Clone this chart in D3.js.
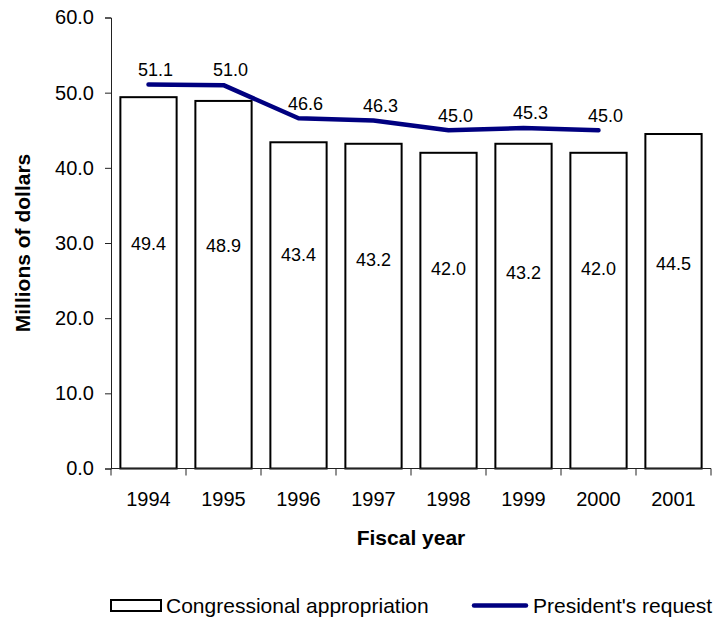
<!DOCTYPE html>
<html>
<head>
<meta charset="utf-8">
<script src="https://cdn.jsdelivr.net/npm/d3@7"></script>
<style>
  html, body { margin: 0; padding: 0; background: #fff; }
  svg text { font-family: "Liberation Sans", Arial, sans-serif; fill: #000; }
</style>
</head>
<body>
<svg id="chart" width="719" height="622"></svg>
<script>
// ---- data ----
const years = ["1994", "1995", "1996", "1997", "1998", "1999", "2000", "2001"];
const appropriation = [49.4, 48.9, 43.4, 43.2, 42.0, 43.2, 42.0, 44.5];
const request = [51.1, 51.0, 46.6, 46.3, 45.0, 45.3, 45.0];
// value (in axis units) at which each bar's label sits, as in the original
const barLabelAt = [29.9, 29.7, 28.5, 27.8, 26.6, 26.1, 26.6, 27.2];
const yTicks = [0, 10, 20, 30, 40, 50, 60];
const seriesNames = ["Congressional appropriation", "President's request"];
const xTitle = "Fiscal year";
const yTitle = "Millions of dollars";

// ---- layout ----
const svg = d3.select("#chart");
const m = { left: 111, top: 17.5, right: 8, bottom: 154 };
const W = 719, H = 622;
const x0 = m.left, x1 = 711, y0 = 468.5, y1 = m.top;

const x = d3.scaleBand().domain(years).range([x0, x1]).paddingInner(0.25).paddingOuter(0.125);
const y = d3.scaleLinear().domain([0, 60]).range([y0, y1]);

const g = svg.append("g");

// bars
g.selectAll("rect.bar").data(appropriation).enter().append("rect")
  .attr("class", "bar")
  .attr("x", (d, i) => x(years[i]))
  .attr("y", d => y(d))
  .attr("width", x.bandwidth())
  .attr("height", d => y(0) - y(d))
  .attr("fill", "#fff").attr("stroke", "#000").attr("stroke-width", 2);

// bar labels
g.selectAll("text.blab").data(appropriation).enter().append("text")
  .attr("x", (d, i) => x(years[i]) + x.bandwidth() / 2)
  .attr("y", (d, i) => y(barLabelAt[i]))
  .attr("dy", "0.35em")
  .attr("text-anchor", "middle")
  .attr("font-size", 18)
  .text(d => d.toFixed(1));

// y axis
const yAxis = d3.axisLeft(y).tickValues(yTicks).tickSize(6).tickPadding(11).tickFormat(d3.format(".1f"));
const ya = svg.append("g").attr("transform", `translate(${x0},0)`).call(yAxis);
ya.select(".domain").attr("stroke", "#222");
ya.selectAll(".tick line").attr("stroke", "#222");
ya.selectAll("text").attr("font-size", 20).attr("font-family", '"Liberation Sans", Arial, sans-serif').attr("fill", "#000");

// x axis: line + ticks between categories
const xa = svg.append("g");
xa.append("line").attr("x1", x0).attr("x2", x1).attr("y1", y0).attr("y2", y0).attr("stroke", "#222");
const step = x.step();
const boundaries = d3.range(years.length + 1).map(i => x0 + i * step);
xa.selectAll("line.xt").data(boundaries).enter().append("line")
  .attr("x1", d => d).attr("x2", d => d).attr("y1", y0).attr("y2", y0 + 7).attr("stroke", "#222");
xa.selectAll("text.xl").data(years).enter().append("text")
  .attr("x", d => x(d) + x.bandwidth() / 2)
  .attr("y", 506)
  .attr("text-anchor", "middle")
  .attr("font-size", 20)
  .text(d => d);

// line
const lineGen = d3.line()
  .x((d, i) => x(years[i]) + x.bandwidth() / 2)
  .y(d => y(d));
g.append("path").datum(request)
  .attr("d", lineGen)
  .attr("fill", "none").attr("stroke", "#000080").attr("stroke-width", 4.5)
  .attr("stroke-linecap", "round").attr("stroke-linejoin", "round");

// line labels
g.selectAll("text.llab").data(request).enter().append("text")
  .attr("x", (d, i) => x(years[i]) + x.bandwidth() / 2 + 7)
  .attr("y", d => y(d) - 15)
  .attr("dy", "0.35em")
  .attr("text-anchor", "middle")
  .attr("font-size", 18)
  .text(d => d.toFixed(1));

// axis titles
svg.append("text")
  .attr("x", 411).attr("y", 545)
  .attr("text-anchor", "middle").attr("font-size", 21).attr("font-weight", "bold")
  .text(xTitle);
svg.append("text")
  .attr("transform", "translate(30,243) rotate(-90)")
  .attr("text-anchor", "middle").attr("font-size", 21).attr("font-weight", "bold")
  .text(yTitle);

// legend
const lg = svg.append("g");
lg.append("rect").attr("x", 111).attr("y", 600).attr("width", 50).attr("height", 11)
  .attr("fill", "#fff").attr("stroke", "#000").attr("stroke-width", 2);
lg.append("text").attr("x", 166).attr("y", 613).attr("font-size", 21).text(seriesNames[0]);
lg.append("line").attr("x1", 474).attr("x2", 526).attr("y1", 605.5).attr("y2", 605.5)
  .attr("stroke", "#000080").attr("stroke-width", 4.5).attr("stroke-linecap", "round");
lg.append("text").attr("x", 533).attr("y", 613).attr("font-size", 21).text(seriesNames[1]);
</script>
</body>
</html>
